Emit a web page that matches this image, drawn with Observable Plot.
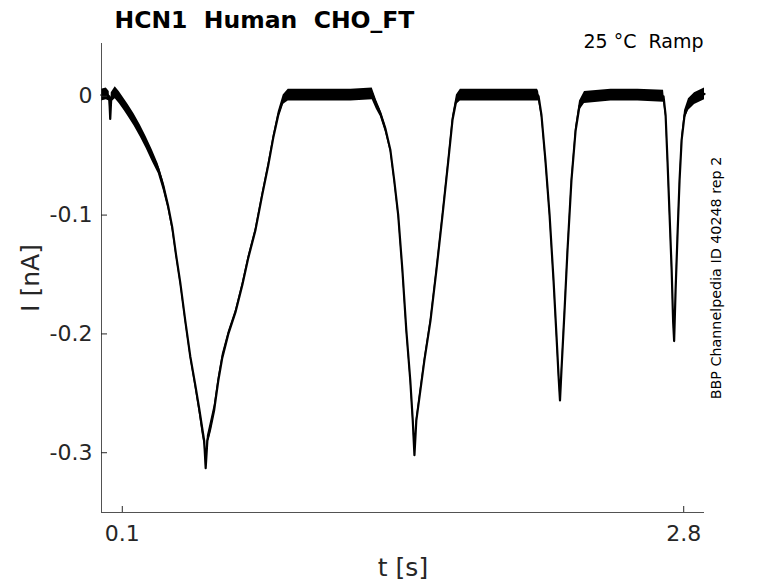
<!DOCTYPE html>
<html>
<head>
<meta charset="utf-8">
<script src="https://cdn.jsdelivr.net/npm/d3@7"></script>
<script src="https://cdn.jsdelivr.net/npm/@observablehq/plot@0.6"></script>
<style>
  html, body { margin: 0; padding: 0; background: #fff; }
  #chart svg { display: block; }
</style>
</head>
<body>
<div id="chart"></div>
<script>
// ---- data ----
const timeS = [
  0.000, 0.023, 0.037, 0.042, 0.047, 0.066, 0.085, 0.109, 0.128, 0.157,
  0.186, 0.215, 0.244, 0.273, 0.297, 0.320, 0.340, 0.359, 0.379, 0.403,
  0.427, 0.451, 0.470, 0.485, 0.494, 0.501, 0.509, 0.523, 0.542, 0.562,
  0.581, 0.610, 0.644, 0.677, 0.706, 0.740, 0.773, 0.802, 0.826, 0.850,
  0.874, 0.898, 1.000, 1.100, 1.200, 1.302, 1.322, 1.341, 1.365, 1.389,
  1.408, 1.427, 1.447, 1.466, 1.485, 1.497, 1.505, 1.514, 1.524, 1.553,
  1.582, 1.611, 1.640, 1.668, 1.688, 1.707, 1.726, 1.850, 1.975, 2.097,
  2.102, 2.116, 2.135, 2.155, 2.174, 2.188, 2.198, 2.205, 2.212, 2.227,
  2.241, 2.260, 2.280, 2.299, 2.323, 2.450, 2.580, 2.703, 2.713, 2.722,
  2.732, 2.742, 2.749, 2.754, 2.761, 2.771, 2.780, 2.790, 2.804, 2.823,
  2.852, 2.900
];
const currentNA = [
  0.001, 0.002, 0.000, -0.019, -0.001, 0.003, -0.001, -0.007, -0.012, -0.020,
  -0.029, -0.039, -0.050, -0.061, -0.075, -0.092, -0.110, -0.134, -0.157, -0.189,
  -0.219, -0.243, -0.263, -0.280, -0.290, -0.313, -0.290, -0.280, -0.264, -0.239,
  -0.220, -0.200, -0.182, -0.159, -0.136, -0.113, -0.083, -0.058, -0.035, -0.016,
  -0.003, 0.001, 0.001, 0.001, 0.001, 0.002, -0.007, -0.014, -0.027, -0.045,
  -0.071, -0.100, -0.146, -0.197, -0.239, -0.273, -0.302, -0.273, -0.260, -0.222,
  -0.189, -0.146, -0.100, -0.054, -0.020, -0.003, 0.001, 0.001, 0.001, 0.001,
  0.000, -0.016, -0.054, -0.100, -0.155, -0.201, -0.235, -0.256, -0.231, -0.180,
  -0.130, -0.071, -0.029, -0.008, -0.001, 0.001, 0.001, 0.000, -0.016, -0.054,
  -0.100, -0.146, -0.189, -0.206, -0.163, -0.113, -0.071, -0.037, -0.016, -0.007,
  -0.002, 0.002
];
// half-width of the noise envelope around the trace (nA)
const noiseNA = [
  0.005, 0.005, 0.004, 0.002, 0.004, 0.005, 0.005, 0.005, 0.005, 0.005,
  0.005, 0.005, 0.005, 0.004, 0.004, 0.003, 0.003, 0.002, 0.002, 0.002,
  0.002, 0.003, 0.004, 0.005, 0.004, 0.000, 0.004, 0.005, 0.004, 0.003,
  0.003, 0.002, 0.002, 0.002, 0.002, 0.002, 0.002, 0.002, 0.002, 0.003,
  0.004, 0.005, 0.005, 0.005, 0.005, 0.005, 0.004, 0.003, 0.003, 0.002,
  0.002, 0.002, 0.002, 0.002, 0.002, 0.002, 0.000, 0.002, 0.002, 0.002,
  0.002, 0.002, 0.002, 0.002, 0.003, 0.004, 0.005, 0.005, 0.005, 0.005,
  0.004, 0.002, 0.002, 0.002, 0.002, 0.002, 0.002, 0.000, 0.002, 0.002,
  0.002, 0.002, 0.003, 0.004, 0.005, 0.005, 0.005, 0.005, 0.002, 0.002,
  0.002, 0.002, 0.001, 0.000, 0.001, 0.002, 0.002, 0.003, 0.004, 0.005,
  0.005, 0.005
];
const xTicks = [0.1, 2.8];
const yTicks = [0, -0.1, -0.2, -0.3];
const xDomain = [0, 2.9];
const yDomain = [-0.3503, 0.0444];
const titleText = "HCN1  Human  CHO_FT";
const conditionText = "25 °C  Ramp";
const sideText = "BBP Channelpedia ID 40248 rep 2";
const xLabel = "t [s]";
const yLabel = "I [nA]";

const trace = timeS.map((t, i) => ({
  t, I: currentNA[i], lo: currentNA[i] - noiseNA[i], hi: currentNA[i] + noiseNA[i]
}));

const ink = "#262626";
const font = "DejaVu Sans, sans-serif";

const chart = Plot.plot({
  width: 778,
  height: 583,
  marginLeft: 101,
  marginRight: 74,
  marginTop: 43,
  marginBottom: 71,
  style: { fontFamily: font, background: "#fff", color: ink },
  x: { domain: xDomain },
  y: { domain: yDomain },
  marks: [
    Plot.areaY(trace, { x: "t", y1: "lo", y2: "hi", fill: "#000", curve: "linear" }),
    Plot.line(trace, { x: "t", y: "I", stroke: "#000", strokeWidth: 2.2, strokeLinejoin: "round" }),
    Plot.ruleX([xDomain[0]], { stroke: ink, strokeWidth: 0.8 }),
    Plot.ruleY([yDomain[0]], { stroke: ink, strokeWidth: 0.8 }),
    Plot.axisX({ ticks: xTicks, tickSize: -6, tickPadding: 19, tickFormat: d => String(d),
      fontSize: 22, label: null, stroke: ink, fill: ink }),
    Plot.axisY({ ticks: yTicks, tickSize: -6, tickPadding: 15, tickFormat: d => String(d),
      fontSize: 22, label: null, stroke: ink, fill: ink }),
    Plot.text([titleText], { frameAnchor: "top-left", textAnchor: "start", lineAnchor: "bottom",
      dx: 13, dy: -16, fontSize: 23.5, fontWeight: "bold", fill: "#000" }),
    Plot.text([conditionText], { frameAnchor: "top-right", textAnchor: "end", lineAnchor: "bottom",
      dx: -1, dy: 4, fontSize: 19, fill: "#000" }),
    Plot.text([sideText], { frameAnchor: "right", textAnchor: "middle", lineAnchor: "middle",
      rotate: -90, dx: 12, dy: 0, fontSize: 14.3, fill: "#000" }),
    Plot.text([xLabel], { frameAnchor: "bottom", textAnchor: "middle", lineAnchor: "middle",
      dy: 55, fontSize: 25, fill: ink }),
    Plot.text([yLabel], { frameAnchor: "left", textAnchor: "middle", lineAnchor: "middle",
      rotate: -90, dx: -71, fontSize: 25, fill: ink })
  ]
});
document.getElementById("chart").appendChild(chart);
</script>
</body>
</html>
